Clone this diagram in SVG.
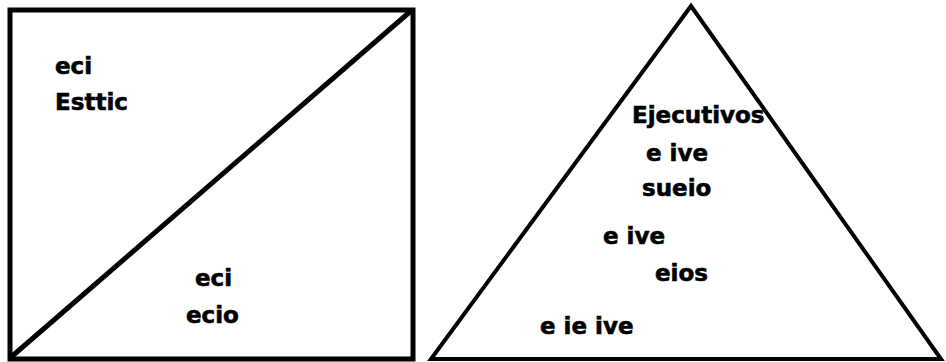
<svg xmlns="http://www.w3.org/2000/svg" width="946" height="362" viewBox="0 0 946 362">
<style>
.shape{fill:none;stroke:#000;stroke-linejoin:miter}
.t{font-family:"DejaVu Sans","Liberation Sans",sans-serif;font-weight:bold;font-size:23px;fill:#000;stroke:#000;stroke-width:0.6}
</style>
<rect width="946" height="362" fill="#fff"/>
<g id="square">
<rect class="shape" x="10" y="10" width="403" height="349" stroke-width="5"/>
</g>
<g id="connectors">
<line class="shape" x1="10" y1="358" x2="412" y2="10" stroke-width="5"/>
</g>
<g id="upper-left">
<text class="t" x="55" y="74">eci</text>
<text class="t" x="55" y="110">Esttic</text>
</g>
<g id="lower-right">
<text class="t" x="195" y="286">eci</text>
<text class="t" x="186" y="323">ecio</text>
</g>
<g id="triangle">
<polygon class="shape" points="691,6 431,359 941,359" stroke-width="4"/>
</g>
<g id="level-top">
<text class="t" x="632" y="123">Ejecutivos</text>
<text class="t" x="646" y="161">e ive</text>
<text class="t" x="642" y="196">sueio</text>
</g>
<g id="level-middle">
<text class="t" x="603" y="244">e ive</text>
<text class="t" x="655" y="281">eios</text>
</g>
<g id="level-bottom">
<text class="t" x="540" y="334">e ie ive</text>
</g>
</svg>
